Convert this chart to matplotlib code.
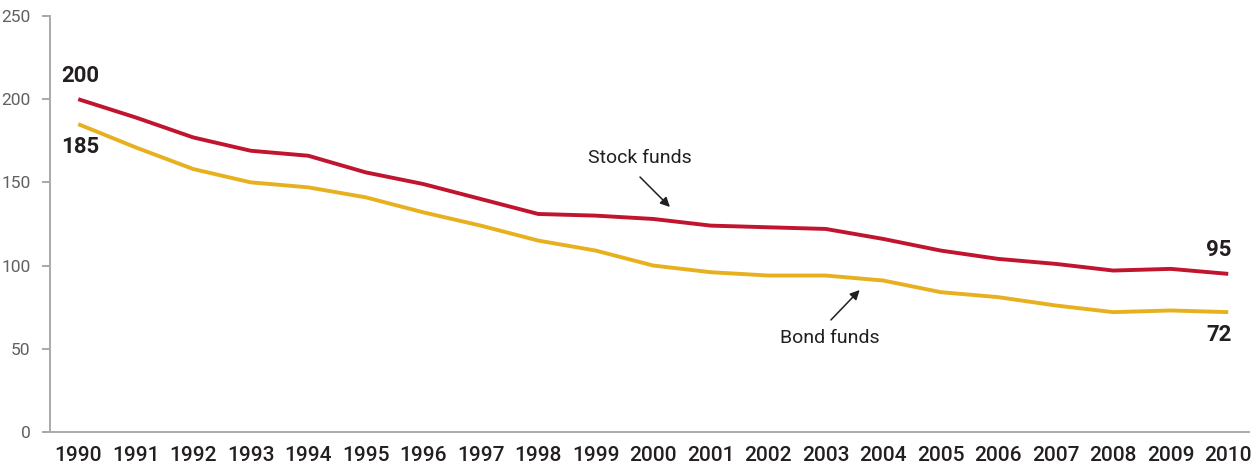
import matplotlib
matplotlib.use("Agg")
import matplotlib.pyplot as plt

years = list(range(1990, 2011))
stock_funds = [200, 189, 177, 169, 166, 156, 149, 140, 131, 130, 128,
               124, 123, 122, 116, 109, 104, 101, 97, 98, 95]
bond_funds = [185, 171, 158, 150, 147, 141, 132, 124, 115, 109, 100,
              96, 94, 94, 91, 84, 81, 76, 72, 73, 72]

red = "#c0142f"
gold = "#e7b01f"
dark = "#231f20"
gray = "#606060"

plt.rcParams['font.family'] = ['Roboto', 'DejaVu Sans']

fig = plt.figure(figsize=(12.52, 4.70), dpi=100)
ax = fig.add_axes([0.040, 0.081, 0.958, 0.885])

ax.plot(years, stock_funds, color=red, lw=2.8, solid_capstyle='butt')
ax.plot(years, bond_funds, color=gold, lw=2.8, solid_capstyle='butt')

ax.set_xlim(1989.51, 2010.37)
ax.set_ylim(0, 250)
ax.set_yticks([0, 50, 100, 150, 200, 250])
ax.set_xticks(years)
ax.set_xticklabels([str(y) for y in years], fontsize=15, fontweight='medium', color=dark)

for lbl in ax.get_yticklabels():
    lbl.set_fontsize(12.5)
    lbl.set_fontweight('normal')
    lbl.set_color(gray)

ax.tick_params(axis='y', direction='out', length=6, width=1.2, color='#999999', pad=8)
ax.tick_params(axis='x', length=0, pad=10)

for s in ['top', 'right']:
    ax.spines[s].set_visible(False)
for s in ['left', 'bottom']:
    ax.spines[s].set_color('#aaaaaa')
    ax.spines[s].set_linewidth(1.4)

# end value labels
ax.text(1990.03, 214.0, "200", ha='center', va='center', fontsize=16, fontweight='bold', color=dark)
ax.text(1990.03, 171.0, "185", ha='center', va='center', fontsize=16, fontweight='bold', color=dark)
ax.text(2009.84, 109.4, "95", ha='center', va='center', fontsize=16, fontweight='bold', color=dark)
ax.text(2009.84, 58.3, "72", ha='center', va='center', fontsize=16, fontweight='bold', color=dark)

# series annotations
ax.text(1999.77, 164.5, "Stock funds", ha='center', va='center', fontsize=14, color=dark)
ax.annotate("", xy=(2000.29, 135.2), xytext=(1999.77, 153.2),
            arrowprops=dict(arrowstyle='-|>', color=dark, lw=1.1,
                            shrinkA=0, shrinkB=0, mutation_scale=14))
ax.text(2003.07, 56.5, "Bond funds", ha='center', va='center', fontsize=14, color=dark)
ax.annotate("", xy=(2003.59, 85.3), xytext=(2003.09, 67.3),
            arrowprops=dict(arrowstyle='-|>', color=dark, lw=1.1,
                            shrinkA=0, shrinkB=0, mutation_scale=14))

fig.savefig("out.png", dpi=100)
